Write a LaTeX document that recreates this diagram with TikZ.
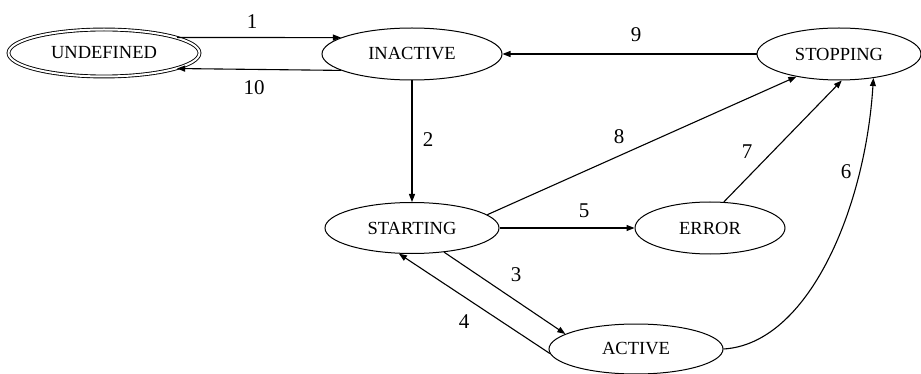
\documentclass[tikz,border=0pt]{standalone}
\usepackage{fontspec}
\setmainfont{Liberation Serif}
\usetikzlibrary{shapes.geometric,arrows.meta}
\begin{document}
\begin{tikzpicture}[x=1pt,y=-1pt,
  state/.style={ellipse,draw,line width=1pt,inner sep=0pt,font=\fontsize{18.5}{20}\selectfont},
  lbl/.style={font=\fontsize{21}{24}\selectfont,inner sep=0pt},
  edge/.style={line width=1.1pt,-{Triangle[length=8pt,width=6pt]}}]
\useasboundingbox (0,0) rectangle (921,374);
\node[state,double,double distance=2pt,line width=0.9pt,minimum width=191pt,minimum height=47pt] (und) at (104,53) {UNDEFINED};
\node[state,minimum width=180pt,minimum height=52pt] (ina) at (412,54) {INACTIVE};
\node[state,minimum width=164pt,minimum height=52pt] (sto) at (839,54) {STOPPING};
\node[state,minimum width=174pt,minimum height=51pt] (sta) at (412,228) {STARTING};
\node[state,minimum width=150pt,minimum height=52pt] (err) at (710,228) {ERROR};
\node[state,minimum width=174pt,minimum height=50pt] (act) at (636,349) {ACTIVE};

\draw[edge] (und.12) -- (ina.167);
\draw[edge] (ina.193) -- (und.-12);
\draw[edge] (sto.west) -- (ina.east);
\draw[edge] (ina.south) -- (sta.north);
\draw[edge] (sta.east) -- (err.west);
\draw[edge] (sta.-37) -- (act.168);
\draw[edge] (act.183) -- (sta.243);
\draw[edge] (sta.10) -- (sto.208);
\draw[edge] (err.62) -- (sto.-84);
\draw[edge] (act.east) .. controls +(85,-5) and +(-8,130) .. (sto.-35);

\node[lbl] (l1) at (252,22) {1};
\node[lbl] (l10) at (254,88) {10};
\node[lbl] (l9) at (636,35) {9};
\node[lbl] (l2) at (428,140) {2};
\node[lbl] (l8) at (619,137) {8};
\node[lbl] (l7) at (747,152) {7};
\node[lbl] (l6) at (846,172) {6};
\node[lbl] (l5) at (584,211) {5};
\node[lbl] (l3) at (516,275) {3};
\node[lbl] (l4) at (464,322) {4};
\end{tikzpicture}
\end{document}
